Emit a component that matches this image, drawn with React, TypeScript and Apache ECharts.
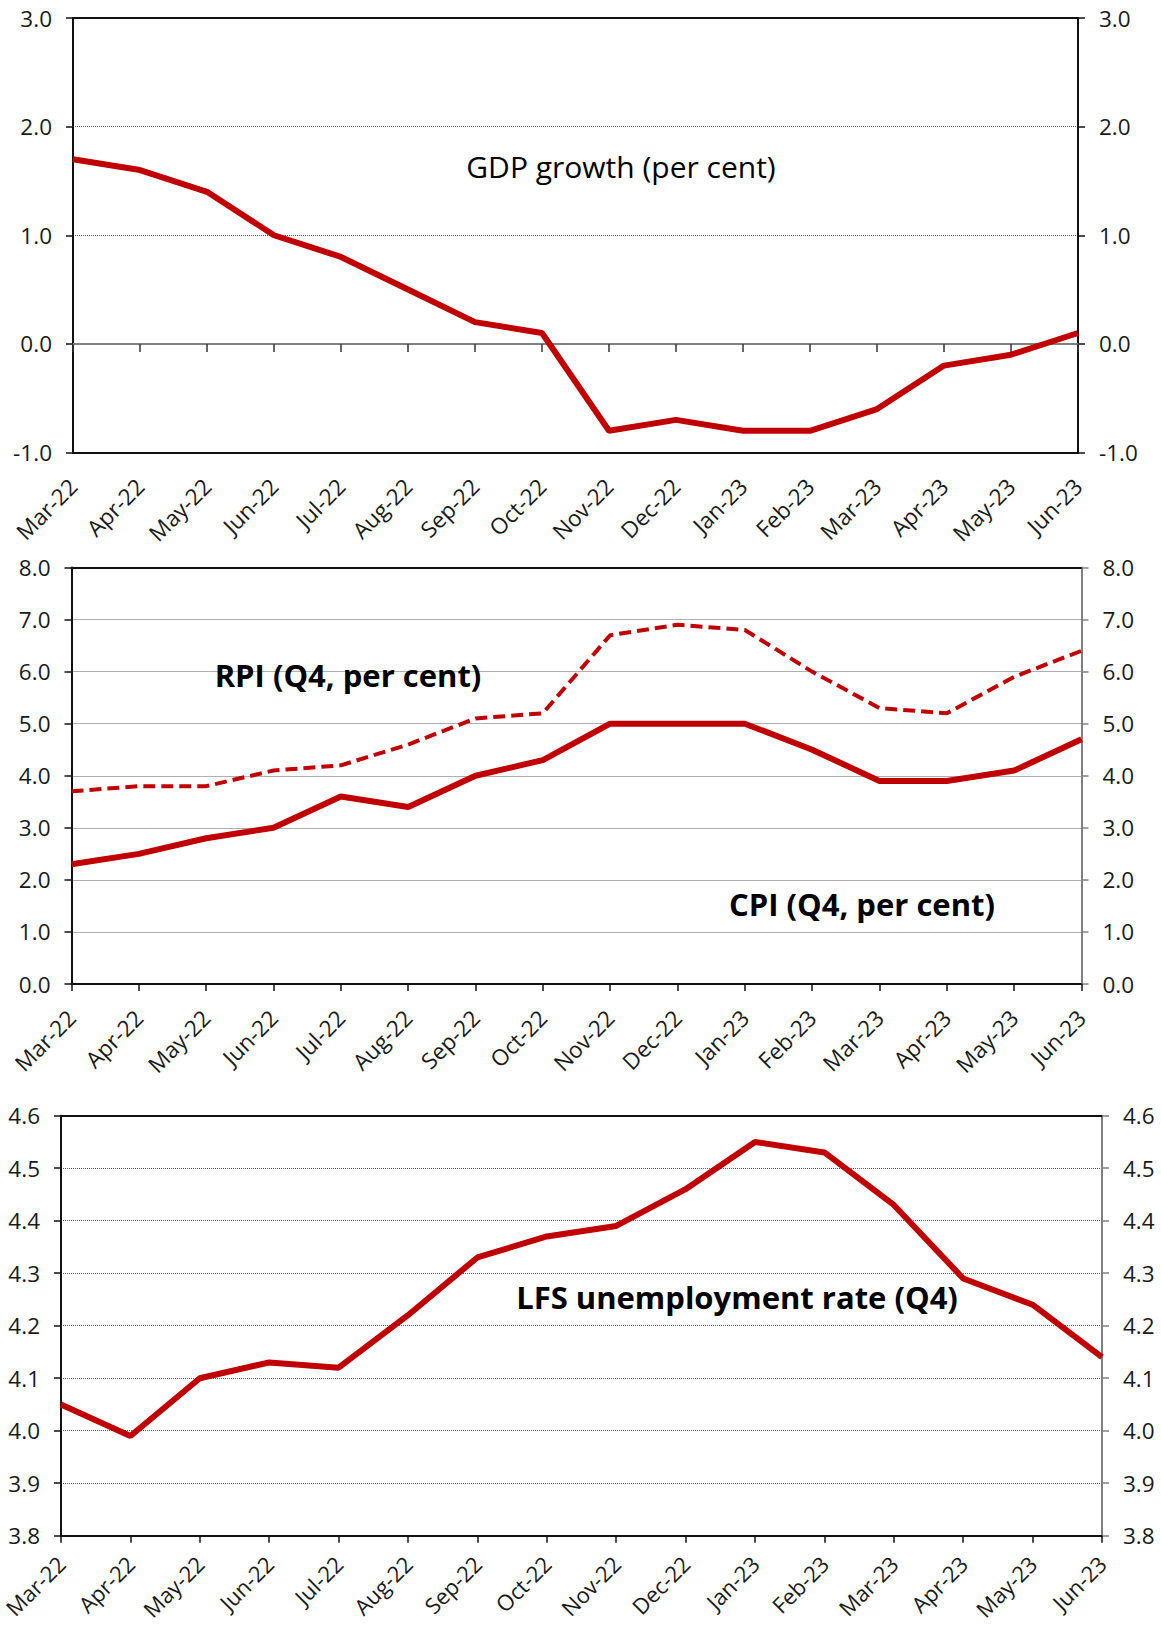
import React, { useEffect, useRef } from "react";
import * as echarts from "echarts";

const months = [
  "Mar-22", "Apr-22", "May-22", "Jun-22", "Jul-22", "Aug-22", "Sep-22", "Oct-22",
  "Nov-22", "Dec-22", "Jan-23", "Feb-23", "Mar-23", "Apr-23", "May-23", "Jun-23",
];
const gdpGrowth = [1.7, 1.6, 1.4, 1.0, 0.8, 0.5, 0.2, 0.1, -0.8, -0.7, -0.8, -0.8, -0.6, -0.2, -0.1, 0.1];
const cpi = [2.3, 2.5, 2.8, 3.0, 3.6, 3.4, 4.0, 4.3, 5.0, 5.0, 5.0, 4.5, 3.9, 3.9, 4.1, 4.7];
const rpi = [3.7, 3.8, 3.8, 4.1, 4.2, 4.6, 5.1, 5.2, 6.7, 6.9, 6.8, 6.0, 5.3, 5.2, 5.9, 6.4];
const unemployment = [4.05, 3.99, 4.1, 4.13, 4.12, 4.22, 4.33, 4.37, 4.39, 4.46, 4.55, 4.53, 4.43, 4.29, 4.24, 4.14];

const gdpTitle = "GDP growth (per cent)";
const rpiTitle = "RPI (Q4, per cent)";
const cpiTitle = "CPI (Q4, per cent)";
const lfsTitle = "LFS unemployment rate (Q4)";

const FONT = "'Open Sans', 'Noto Sans', sans-serif";
const RED = "#C00000";
const BLACK = "#111111";
const GREY = "#808080";
const LABEL = "#1a1a1a";
const TICK_FONT = 22.5;

function labelAxis(gridIndex: number, withTicks: boolean, margin: number, fontSize: number) {
  return {
    type: "category",
    gridIndex,
    data: months,
    position: "bottom",
    boundaryGap: false,
    axisLine: { show: true, onZero: false, lineStyle: { color: BLACK, width: 2 } },
    axisTick: { show: withTicks, inside: false, length: 7, alignWithLabel: true, lineStyle: { color: BLACK, width: 1.5 } },
    axisLabel: {
      show: true,
      interval: 0,
      rotate: 45,
      margin,
      fontSize,
      fontFamily: FONT,
      color: LABEL,
    },
    splitLine: { show: false },
  };
}

function topAxis(gridIndex: number) {
  return {
    type: "category",
    gridIndex,
    data: months,
    position: "top",
    boundaryGap: false,
    axisLine: { show: true, onZero: false, lineStyle: { color: BLACK, width: 2 } },
    axisTick: { show: false },
    axisLabel: { show: false },
    splitLine: { show: false },
  };
}

function leftAxis(gridIndex: number, min: number, max: number, interval: number, decimals: number) {
  return {
    type: "value",
    gridIndex,
    position: "left",
    min,
    max,
    interval,
    axisLine: { show: true, onZero: false, lineStyle: { color: BLACK, width: 2 } },
    axisTick: { show: true, inside: false, length: 7, lineStyle: { color: BLACK, width: 1.5 } },
    axisLabel: {
      margin: 21,
      fontSize: TICK_FONT,
      fontFamily: FONT,
      color: LABEL,
      formatter: (v: number) => v.toFixed(decimals),
    },
    splitLine: { show: true, lineStyle: { color: "#5e5e5e", width: 1, type: [1, 1] } },
  };
}

function rightAxis(gridIndex: number, min: number, max: number, interval: number, decimals: number, color: string) {
  return {
    type: "value",
    gridIndex,
    position: "right",
    min,
    max,
    interval,
    axisLine: { show: true, onZero: false, lineStyle: { color, width: 2 } },
    axisTick: { show: true, inside: false, length: 7, lineStyle: { color, width: 1.5 } },
    axisLabel: {
      margin: 21,
      fontSize: TICK_FONT,
      fontFamily: FONT,
      color: LABEL,
      formatter: (v: number) => v.toFixed(decimals),
    },
    splitLine: { show: false },
  };
}

function note(text: string, x: number, y: number, bold: boolean, size: number) {
  return {
    type: "text",
    x,
    y,
    z: 10,
    style: {
      text,
      fontSize: size,
      fontFamily: FONT,
      fontWeight: bold ? "bold" : "normal",
      fill: "#000",
      textAlign: "center",
      textVerticalAlign: "middle",
    },
  };
}

export default function App() {
  const ref = useRef<HTMLDivElement>(null);

  useEffect(() => {
    if (!ref.current) return;
    const chart = echarts.init(ref.current, null, { renderer: "svg" });

    const option: any = {
      animation: false,
      backgroundColor: "#ffffff",
      grid: [
        { left: 73, top: 18, width: 1005, height: 434.5, containLabel: false, outerBoundsMode: "none" },
        { left: 71.5, top: 567.5, width: 1010, height: 416.5, containLabel: false, outerBoundsMode: "none" },
        { left: 61, top: 1115.7, width: 1041, height: 420, containLabel: false, outerBoundsMode: "none" },
      ],
      xAxis: [
        // grid 0
        labelAxis(0, false, 30, TICK_FONT),
        {
          type: "category",
          gridIndex: 0,
          data: months,
          position: "bottom",
          boundaryGap: false,
          axisLine: { show: true, onZero: true, lineStyle: { color: GREY, width: 2 } },
          axisTick: { show: true, inside: false, length: 8, lineStyle: { color: "#333", width: 1.5 } },
          axisLabel: { show: false },
          splitLine: { show: false },
        },
        topAxis(0),
        // grid 1
        labelAxis(1, true, 30, TICK_FONT),
        topAxis(1),
        // grid 2
        labelAxis(2, true, 24, 22),
        topAxis(2),
      ],
      yAxis: [
        leftAxis(0, -1, 3, 1, 1),
        rightAxis(0, -1, 3, 1, 1, BLACK),
        leftAxis(1, 0, 8, 1, 1),
        rightAxis(1, 0, 8, 1, 1, GREY),
        leftAxis(2, 3.8, 4.6, 0.1, 1),
        rightAxis(2, 3.8, 4.6, 0.1, 1, GREY),
      ],
      series: [
        {
          name: "GDP growth",
          type: "line",
          xAxisIndex: 0,
          yAxisIndex: 0,
          data: gdpGrowth,
          symbol: "none",
          lineStyle: { color: RED, width: 6 },
          z: 5,
        },
        {
          name: "RPI",
          type: "line",
          xAxisIndex: 3,
          yAxisIndex: 2,
          data: rpi,
          symbol: "none",
          lineStyle: { color: RED, width: 4, type: [12, 6] },
          z: 5,
        },
        {
          name: "CPI",
          type: "line",
          xAxisIndex: 3,
          yAxisIndex: 2,
          data: cpi,
          symbol: "none",
          lineStyle: { color: RED, width: 6 },
          z: 5,
        },
        {
          name: "LFS unemployment",
          type: "line",
          xAxisIndex: 5,
          yAxisIndex: 4,
          data: unemployment,
          symbol: "none",
          lineStyle: { color: RED, width: 6 },
          z: 5,
        },
      ],
      graphic: [
        note(gdpTitle, 621, 166, false, 30),
        note(rpiTitle, 348, 675, true, 31),
        note(cpiTitle, 862, 904, true, 31),
        note(lfsTitle, 737, 1297, true, 31),
      ],
    };

    chart.setOption(option);
    return () => {
      chart.dispose();
    };
  }, []);

  return (
    <div
      ref={ref}
      style={{
        position: "absolute",
        left: 0,
        top: 0,
        width: 1161,
        height: 1625,
        background: "#ffffff",
      }}
    />
  );
}
